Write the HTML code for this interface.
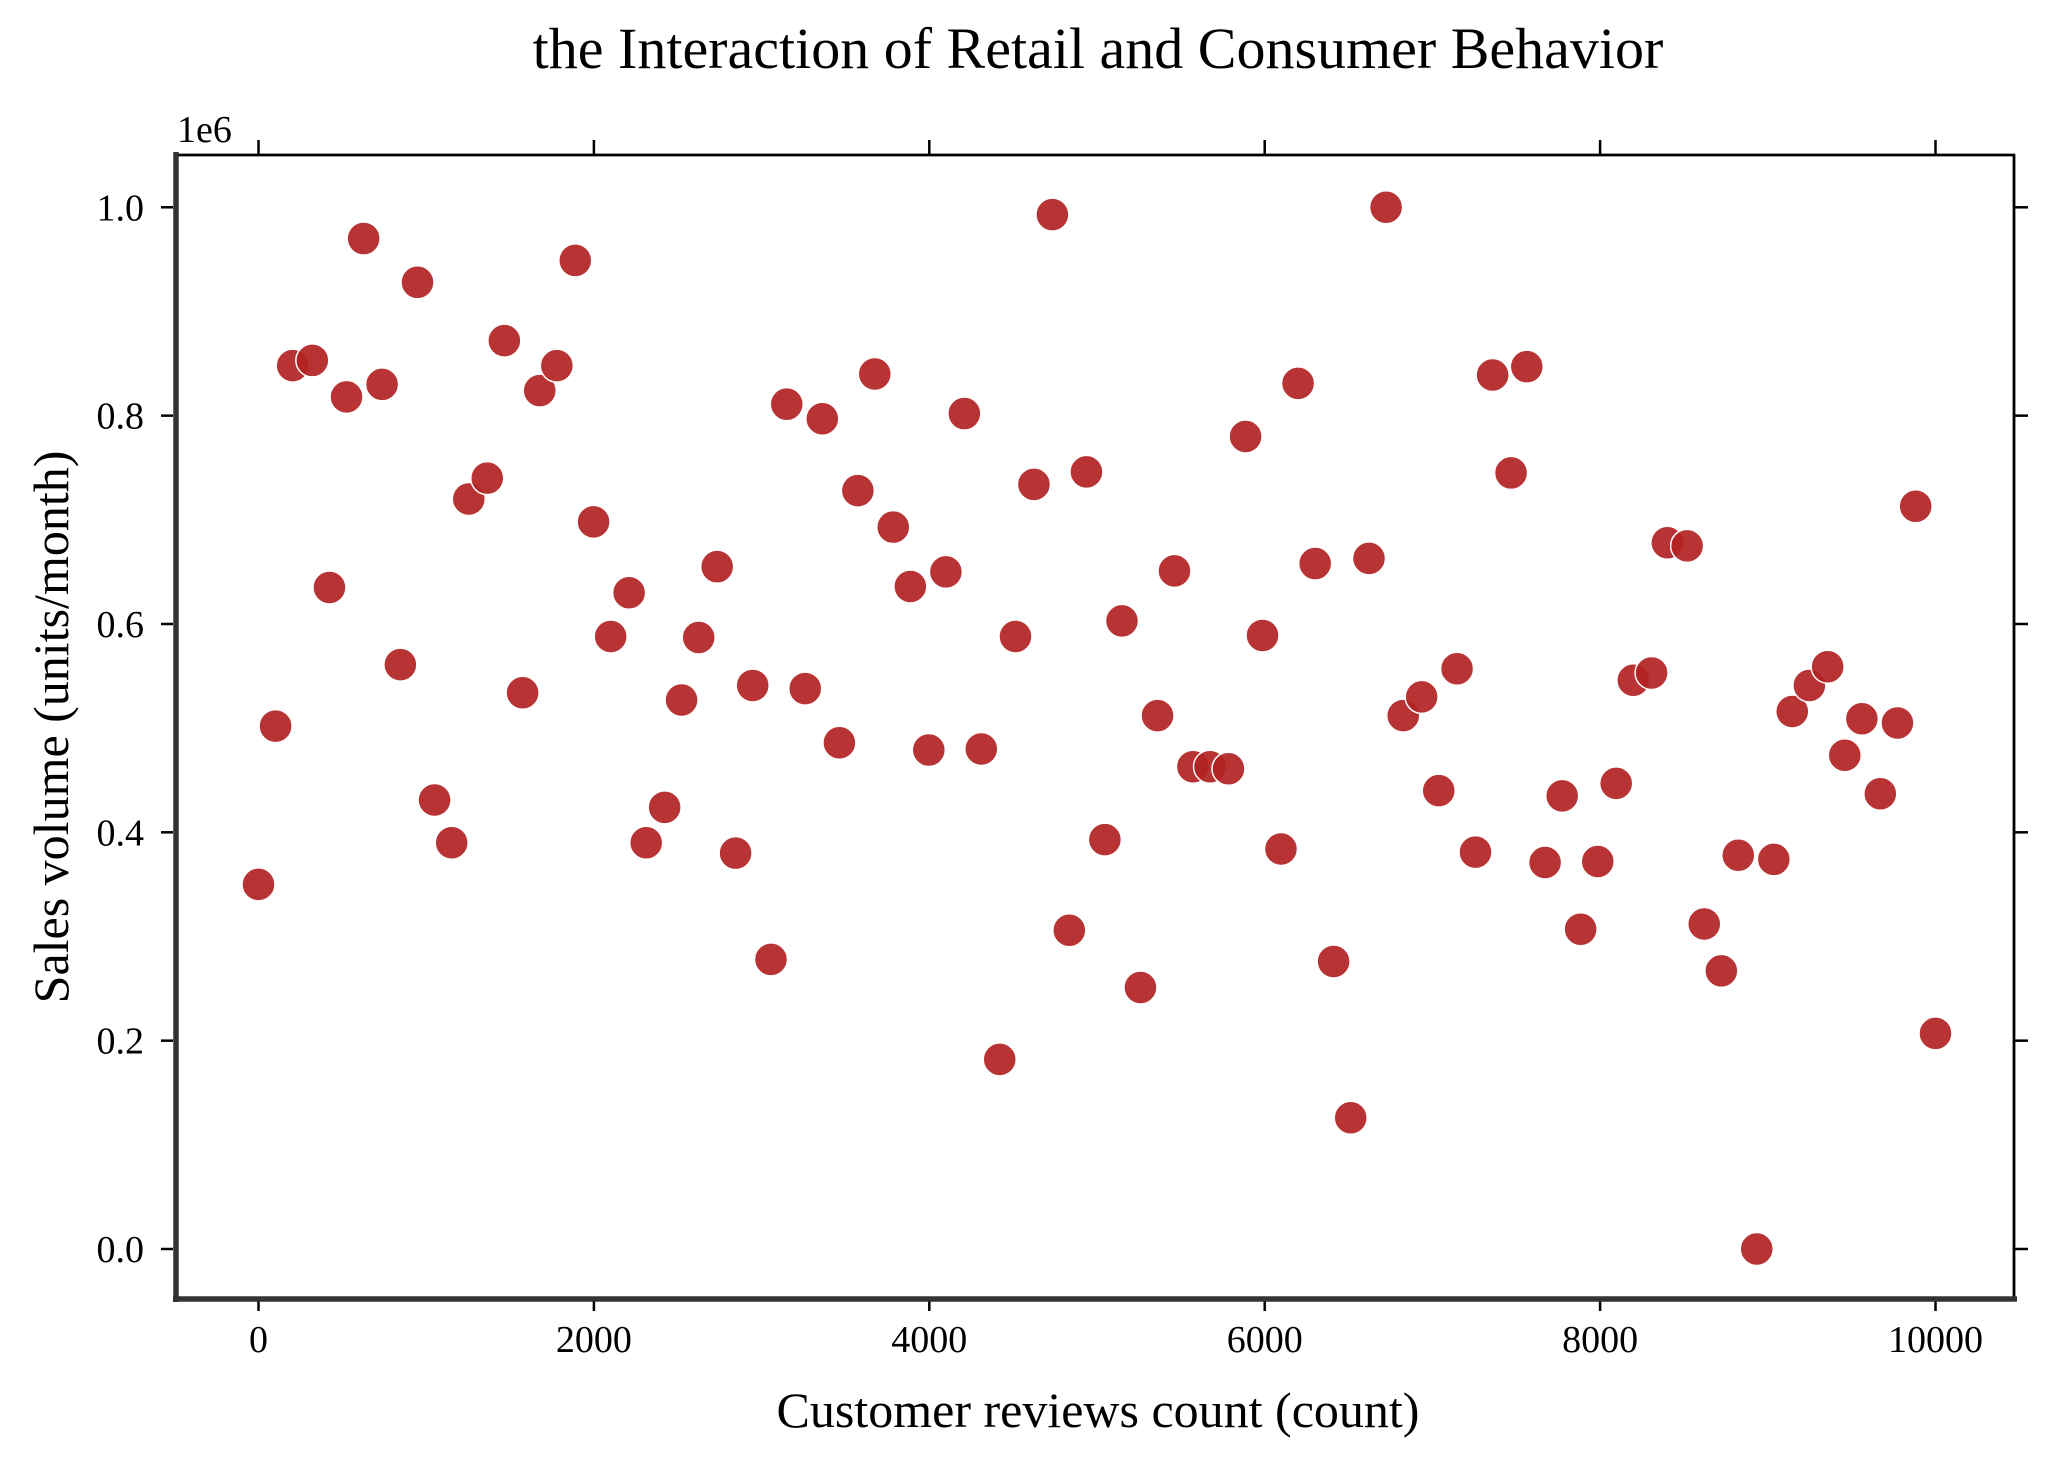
<!DOCTYPE html>
<html><head><meta charset="utf-8"><style>
html,body{margin:0;padding:0;background:#fff;}
svg text{font-family:"Liberation Serif",serif;fill:#000;}
</style></head><body>
<svg id="chart" width="2060" height="1460" viewBox="0 0 2060 1460" xmlns="http://www.w3.org/2000/svg">
<rect x="0" y="0" width="2060" height="1460" fill="#fff"/>
<text x="1098" y="68" font-size="58" text-anchor="middle">the Interaction of Retail and Consumer Behavior</text>
<text x="1098" y="1427" font-size="50" text-anchor="middle">Customer reviews count (count)</text>
<text transform="translate(68,727) rotate(-90)" font-size="50" text-anchor="middle">Sales volume (units/month)</text>
<text x="177" y="142" font-size="38">1e6</text>
<g id="ticks"></g>
<g id="points"></g>
<line x1="175" y1="155" x2="2015" y2="155" stroke="#000" stroke-width="2.8"/>
<line x1="2014" y1="154" x2="2014" y2="1299" stroke="#000" stroke-width="2.8"/>
<line x1="176" y1="152" x2="176" y2="1302" stroke="#333" stroke-width="5.5"/>
<line x1="173" y1="1299" x2="2017" y2="1299" stroke="#333" stroke-width="5.5"/>
</svg>
<script>
const xValues=[0,102,204,321,423,525,627,737,846,948,1050,1152,1254,1364,1466,1575,1677,1779,1889,1998,2100,2210,2312,2422,2523,2625,2735,2845,2947,3056,3150,3260,3362,3464,3574,3675,3785,3887,3997,4099,4209,4310,4420,4514,4624,4734,4835,4937,5047,5149,5259,5361,5462,5572,5674,5784,5886,5987,6097,6199,6301,6411,6513,6622,6724,6826,6936,7038,7147,7257,7359,7469,7563,7672,7774,7884,7986,8096,8198,8307,8401,8519,8621,8723,8824,8934,9036,9146,9248,9357,9459,9561,9671,9773,9882,10000];
const yValues=[0.350,0.502,0.848,0.853,0.635,0.818,0.970,0.830,0.561,0.928,0.431,0.390,0.720,0.740,0.872,0.534,0.824,0.848,0.949,0.698,0.588,0.630,0.390,0.424,0.527,0.587,0.655,0.380,0.541,0.278,0.811,0.538,0.797,0.486,0.728,0.840,0.693,0.636,0.479,0.650,0.802,0.480,0.182,0.588,0.734,0.993,0.306,0.746,0.393,0.603,0.251,0.512,0.651,0.463,0.463,0.461,0.780,0.589,0.384,0.831,0.658,0.276,0.126,0.663,1.000,0.512,0.530,0.440,0.557,0.381,0.839,0.745,0.847,0.371,0.435,0.307,0.372,0.447,0.546,0.553,0.678,0.675,0.312,0.267,0.378,0.000,0.374,0.516,0.541,0.559,0.474,0.509,0.437,0.505,0.713,0.207];
const xTicks=[0,2000,4000,6000,8000,10000];
const xTickLabels=["0","2000","4000","6000","8000","10000"];
const yTicks=[0,0.2,0.4,0.6,0.8,1.0];
const yTickLabels=["0.0","0.2","0.4","0.6","0.8","1.0"];

const NS="http://www.w3.org/2000/svg";
function sx(v){return 258.5+(v-0)*(1935.5-258.5)/10000;}
function sy(v){return 1249-(v-0)*(1249-207.3)/1.0;}
function mk(tag,attrs,parent){const e=document.createElementNS(NS,tag);for(const k in attrs)e.setAttribute(k,attrs[k]);parent.appendChild(e);return e;}
const tg=document.getElementById('ticks');
xTicks.forEach((t,i)=>{
  const x=sx(t);
  const b=mk('line',{x1:x,y1:1301,x2:x,y2:1311,stroke:'#000','stroke-width':2.5},tg);
  
  
  const tp=mk('line',{x1:x,y1:155,x2:x,y2:140,stroke:'#000','stroke-width':2.5},tg);
  
  
  const l=mk('text',{x:x,y:1352,'font-size':38,'text-anchor':'middle'},tg);
  l.textContent=xTickLabels[i];
  
  
});
yTicks.forEach((t,i)=>{
  const y=sy(t);
  const a=mk('line',{x1:173,y1:y,x2:161,y2:y,stroke:'#000','stroke-width':2.5},tg);
  
  
  const r=mk('line',{x1:2014,y1:y,x2:2028,y2:y,stroke:'#000','stroke-width':2.5},tg);
  
  
  const l=mk('text',{x:144,y:y+13,'font-size':38,'text-anchor':'end'},tg);
  l.textContent=yTickLabels[i];
  
  
});
const pg=document.getElementById('points');
xValues.forEach((xv,i)=>{
  const c=mk('circle',{cx:sx(xv),cy:sy(yValues[i]),r:16.5,fill:'#b22222','fill-opacity':0.92,stroke:'#fff','stroke-width':1.5},pg);
  
  
});
</script>
</body></html>
